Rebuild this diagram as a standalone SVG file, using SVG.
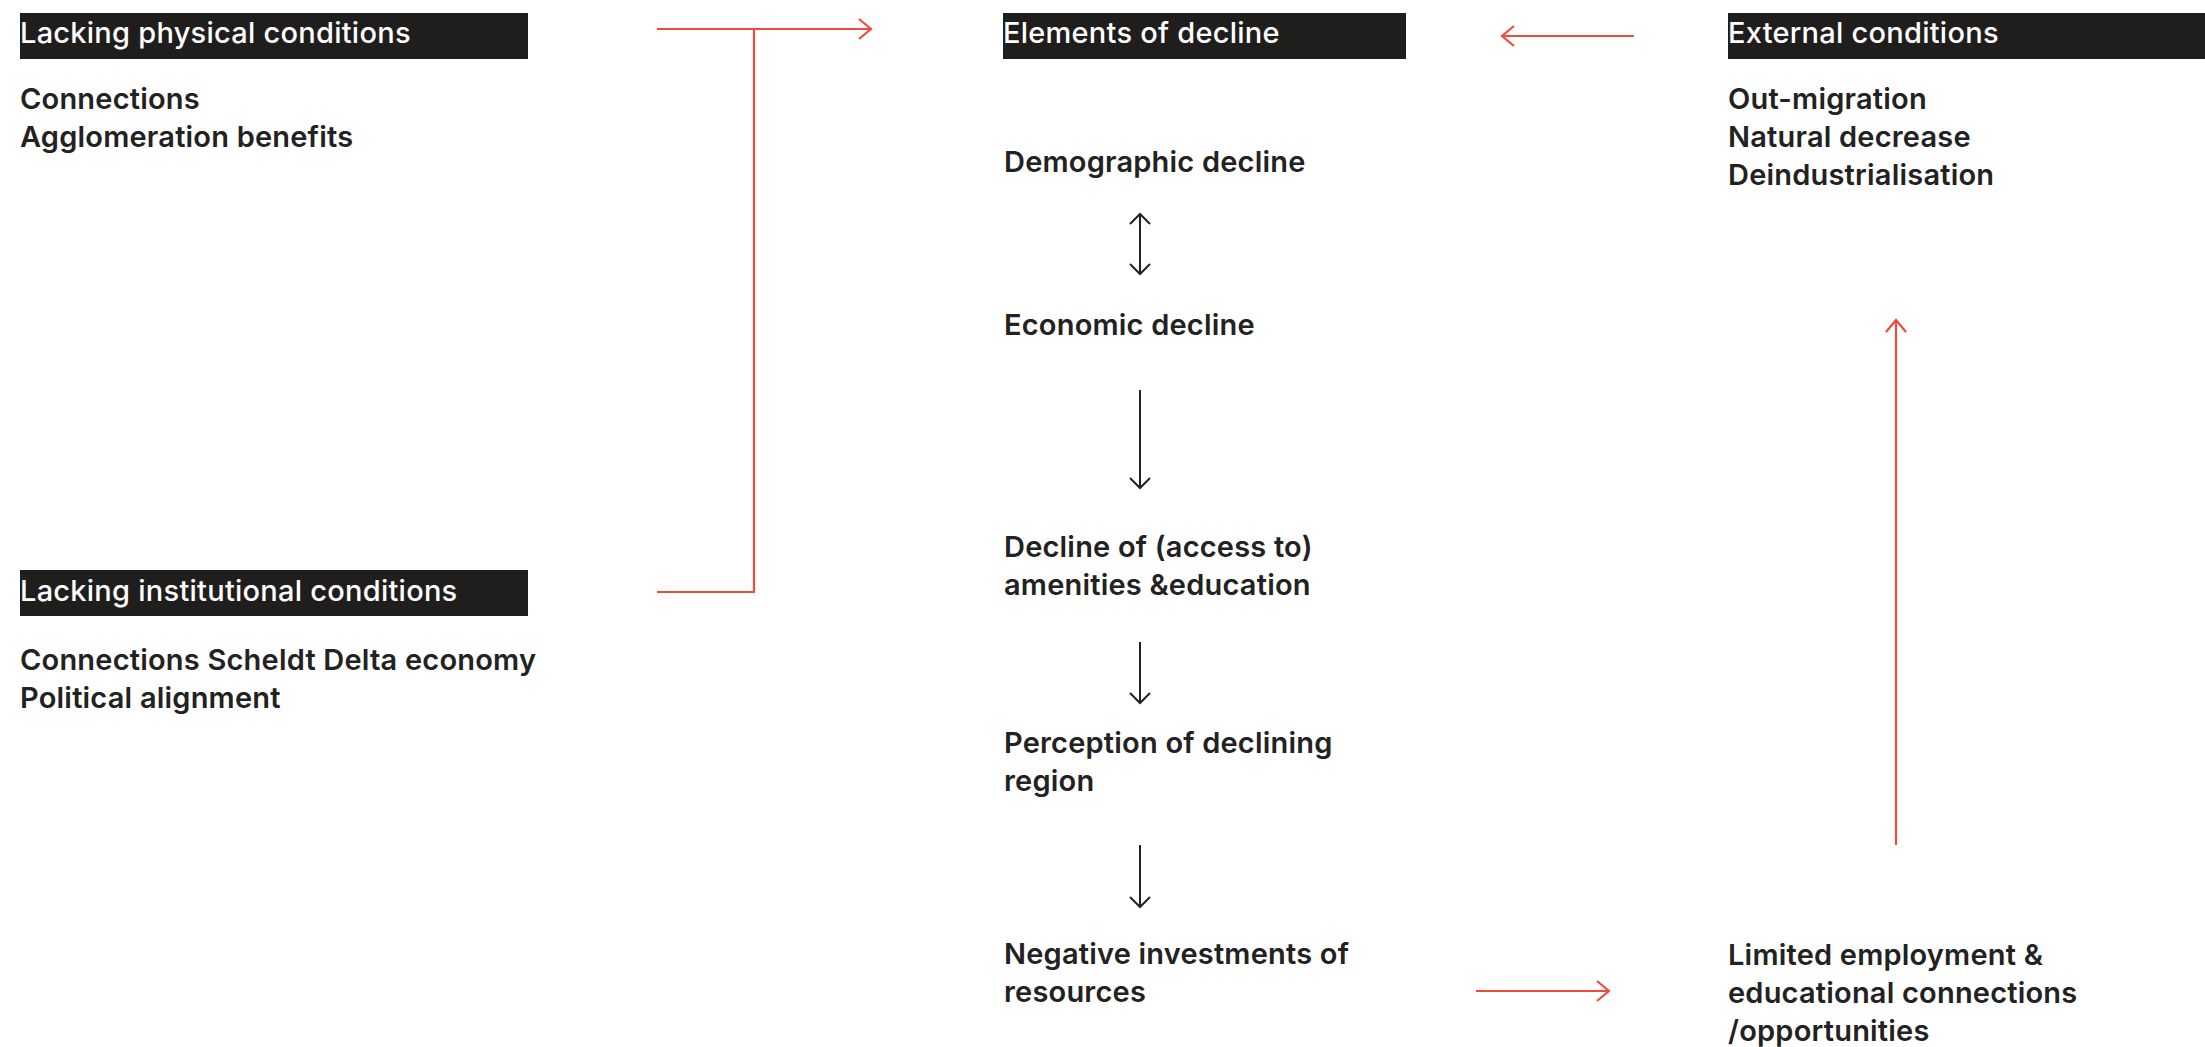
<svg xmlns="http://www.w3.org/2000/svg" width="2205" height="1047" viewBox="0 0 2205 1047">
<style>
.hdr{fill:#1f1e1c}
.ht{fill:#ffffff;font-family:Inter,"Liberation Sans",sans-serif;font-size:29px;font-weight:500;letter-spacing:0.25px}
.t{fill:#222222;font-family:Inter,"Liberation Sans",sans-serif;font-size:29px;font-weight:600;letter-spacing:0.2px}
.red{fill:none;stroke:#ef4c3c;stroke-width:2.2}
.blk{fill:none;stroke:#222222;stroke-width:2}
</style>
<defs>
<marker id="ar" markerUnits="userSpaceOnUse" markerWidth="30" markerHeight="30" viewBox="-15 -15 30 30" refX="0" refY="0" orient="auto-start-reverse">
<path d="M-12,-10 L0,0 L-12,10" fill="none" stroke="#ef4c3c" stroke-width="2.2"/>
</marker>
<marker id="ab" markerUnits="userSpaceOnUse" markerWidth="30" markerHeight="30" viewBox="-15 -15 30 30" refX="0" refY="0" orient="auto-start-reverse">
<path d="M-10,-10 L0,0 L-10,10" fill="none" stroke="#222222" stroke-width="2"/>
</marker>
</defs>
<rect width="2205" height="1047" fill="#ffffff"/>
<g id="lacking-physical">
<rect class="hdr" x="20" y="13" width="508" height="46"/>
<text class="ht" x="20" y="43">Lacking physical conditions</text>
<text class="t" x="20" y="109">Connections</text>
<text class="t" x="20" y="147">Agglomeration benefits</text>
</g>
<g id="lacking-institutional">
<rect class="hdr" x="20" y="570" width="508" height="46"/>
<text class="ht" x="20" y="601">Lacking institutional conditions</text>
<text class="t" x="20" y="670">Connections Scheldt Delta economy</text>
<text class="t" x="20" y="708">Political alignment</text>
</g>
<g id="elements-of-decline">
<rect class="hdr" x="1003" y="13" width="403" height="46"/>
<text class="ht" x="1003" y="43">Elements of decline</text>
</g>
<g id="demographic-decline"><text class="t" x="1004" y="172">Demographic decline</text></g>
<g id="economic-decline"><text class="t" x="1004" y="335">Economic decline</text></g>
<g id="amenities-decline"><text class="t" x="1004" y="557">Decline of (access to)</text><text class="t" x="1004" y="595">amenities &amp;education</text></g>
<g id="perception"><text class="t" x="1004" y="753">Perception of declining</text><text class="t" x="1004" y="791">region</text></g>
<g id="negative-investments"><text class="t" x="1004" y="964">Negative investments of</text><text class="t" x="1004" y="1002">resources</text></g>
<g id="external-conditions">
<rect class="hdr" x="1728" y="13" width="477" height="46"/>
<text class="ht" x="1728" y="43">External conditions</text>
<text class="t" x="1728" y="109">Out-migration</text>
<text class="t" x="1728" y="147">Natural decrease</text>
<text class="t" x="1728" y="185">Deindustrialisation</text>
</g>
<g id="limited-employment">
<text class="t" x="1728" y="965">Limited employment &amp;</text>
<text class="t" x="1728" y="1003">educational connections</text>
<text class="t" x="1728" y="1041">/opportunities</text>
</g>
<g id="connectors">
<path class="red" d="M657,592 H754 V29"/>
<path class="red" d="M657,29 H871" marker-end="url(#ar)"/>
<path class="red" d="M1634,36 H1502" marker-end="url(#ar)"/>
<path class="red" d="M1476,991 H1609" marker-end="url(#ar)"/>
<path class="red" d="M1896,845 V320" marker-end="url(#ar)"/>
<path class="blk" d="M1140,214 V274" marker-start="url(#ab)" marker-end="url(#ab)"/>
<path class="blk" d="M1140,390 V488" marker-end="url(#ab)"/>
<path class="blk" d="M1140,642 V703" marker-end="url(#ab)"/>
<path class="blk" d="M1140,845 V907" marker-end="url(#ab)"/>
</g>
</svg>
